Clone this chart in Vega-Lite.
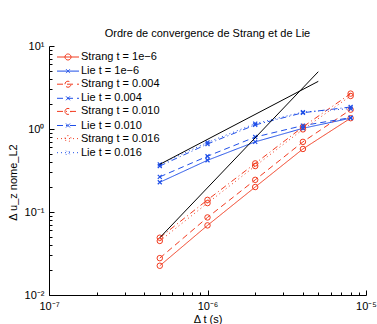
{
  "$schema": "https://vega.github.io/schema/vega-lite/v6.json",
  "width": 317,
  "height": 249,
  "autosize": {"type": "none"},
  "padding": {"left": 49, "top": 46, "right": 11, "bottom": 29},
  "background": "white",
  "title": {"text": "Ordre de convergence de Strang et de Lie", "fontSize": 11, "fontWeight": "normal", "font": "Liberation Sans", "offset": 1, "color": "black", "anchor": "middle"},
  "config": {
    "view": {"stroke": null},
    "axis": {"domainColor": "black", "domainWidth": 1, "tickColor": "black", "tickWidth": 1, "labelColor": "black", "labelFont": "Liberation Sans", "labelFontSize": 11, "titleFont": "Liberation Sans", "titleFontSize": 11, "titleFontWeight": "normal", "titleColor": "black", "grid": false, "labelOverlap": false, "labelFlush": false},
    "legend": {"orient": "none", "legendX": 13, "legendY": 5, "title": null, "symbolSize": 121, "symbolStrokeWidth": 1, "labelFontSize": 11, "labelFont": "Liberation Sans", "labelColor": "black", "labelOffset": 7, "rowPadding": 2.1, "padding": 0, "symbolOpacity": 1}
  },
  "datasets": {
    "err": [
      {"series": "Strang t = 1e−6", "method": "Strang", "dt": 5e-7, "err": 0.0225},
      {"series": "Strang t = 1e−6", "method": "Strang", "dt": 1e-6, "err": 0.069},
      {"series": "Strang t = 1e−6", "method": "Strang", "dt": 2e-6, "err": 0.2},
      {"series": "Strang t = 1e−6", "method": "Strang", "dt": 4e-6, "err": 0.575},
      {"series": "Strang t = 1e−6", "method": "Strang", "dt": 8e-6, "err": 1.35},
      {"series": "Lie t = 1e−6", "method": "Lie", "dt": 5e-7, "err": 0.228},
      {"series": "Lie t = 1e−6", "method": "Lie", "dt": 1e-6, "err": 0.42},
      {"series": "Lie t = 1e−6", "method": "Lie", "dt": 2e-6, "err": 0.7},
      {"series": "Lie t = 1e−6", "method": "Lie", "dt": 4e-6, "err": 1.02},
      {"series": "Lie t = 1e−6", "method": "Lie", "dt": 8e-6, "err": 1.35},
      {"series": "Strang t = 0.004", "method": "Strang", "dt": 5e-7, "err": 0.0278},
      {"series": "Strang t = 0.004", "method": "Strang", "dt": 1e-6, "err": 0.086},
      {"series": "Strang t = 0.004", "method": "Strang", "dt": 2e-6, "err": 0.244},
      {"series": "Strang t = 0.004", "method": "Strang", "dt": 4e-6, "err": 0.7},
      {"series": "Strang t = 0.004", "method": "Strang", "dt": 8e-6, "err": 1.71},
      {"series": "Lie t = 0.004", "method": "Lie", "dt": 5e-7, "err": 0.265},
      {"series": "Lie t = 0.004", "method": "Lie", "dt": 1e-6, "err": 0.47},
      {"series": "Lie t = 0.004", "method": "Lie", "dt": 2e-6, "err": 0.8},
      {"series": "Lie t = 0.004", "method": "Lie", "dt": 4e-6, "err": 1.1},
      {"series": "Lie t = 0.004", "method": "Lie", "dt": 8e-6, "err": 1.37},
      {"series": "Strang t = 0.010", "method": "Strang", "dt": 5e-7, "err": 0.049},
      {"series": "Strang t = 0.010", "method": "Strang", "dt": 1e-6, "err": 0.14},
      {"series": "Strang t = 0.010", "method": "Strang", "dt": 2e-6, "err": 0.385},
      {"series": "Strang t = 0.010", "method": "Strang", "dt": 4e-6, "err": 1.06},
      {"series": "Strang t = 0.010", "method": "Strang", "dt": 8e-6, "err": 2.67},
      {"series": "Lie t = 0.010", "method": "Lie", "dt": 5e-7, "err": 0.358},
      {"series": "Lie t = 0.010", "method": "Lie", "dt": 1e-6, "err": 0.66},
      {"series": "Lie t = 0.010", "method": "Lie", "dt": 2e-6, "err": 1.12},
      {"series": "Lie t = 0.010", "method": "Lie", "dt": 4e-6, "err": 1.57},
      {"series": "Lie t = 0.010", "method": "Lie", "dt": 8e-6, "err": 1.84},
      {"series": "Strang t = 0.016", "method": "Strang", "dt": 5e-7, "err": 0.0448},
      {"series": "Strang t = 0.016", "method": "Strang", "dt": 1e-6, "err": 0.128},
      {"series": "Strang t = 0.016", "method": "Strang", "dt": 2e-6, "err": 0.358},
      {"series": "Strang t = 0.016", "method": "Strang", "dt": 4e-6, "err": 0.99},
      {"series": "Strang t = 0.016", "method": "Strang", "dt": 8e-6, "err": 2.5},
      {"series": "Lie t = 0.016", "method": "Lie", "dt": 5e-7, "err": 0.375},
      {"series": "Lie t = 0.016", "method": "Lie", "dt": 1e-6, "err": 0.69},
      {"series": "Lie t = 0.016", "method": "Lie", "dt": 2e-6, "err": 1.16},
      {"series": "Lie t = 0.016", "method": "Lie", "dt": 4e-6, "err": 1.6},
      {"series": "Lie t = 0.016", "method": "Lie", "dt": 8e-6, "err": 1.76}
    ],
    "ref": [
      {"order": "1", "dt": 5e-7, "err": 0.375},
      {"order": "1", "dt": 5e-6, "err": 3.75},
      {"order": "2", "dt": 5e-7, "err": 0.049},
      {"order": "2", "dt": 5e-6, "err": 4.9}
    ],
    "leg": [
      {"series": "Strang t = 1e−6"},
      {"series": "Lie t = 1e−6"},
      {"series": "Strang t = 0.004"},
      {"series": "Lie t = 0.004"},
      {"series": "Strang t = 0.010"},
      {"series": "Lie t = 0.010"},
      {"series": "Strang t = 0.016"},
      {"series": "Lie t = 0.016"}
    ]
  },
  "encoding": {
    "x": {
      "field": "dt", "type": "quantitative",
      "scale": {"type": "log", "domain": [1e-7, 1e-5], "nice": false},
      "axis": {
        "title": "Δ t (s)",
        "titlePadding": 0,
        "labelPadding": 10,
        "tickSize": {"condition": {"test": "abs(log(datum.value)/LN10 - round(log(datum.value)/LN10)) < 0.001", "value": -5}, "value": -3},
        "labelExpr": "abs(log(datum.value)/LN10 - round(log(datum.value)/LN10)) > 0.001 ? '' : round(log(datum.value)/LN10) == -7 ? '10⁻⁷' : round(log(datum.value)/LN10) == -6 ? '10⁻⁶' : '10⁻⁵'"
      }
    },
    "y": {
      "field": "err", "type": "quantitative",
      "scale": {"type": "log", "domain": [0.01, 10], "nice": false},
      "axis": {
        "title": "Δ u_z nome_L2",
        "titlePadding": 6,
        "titleY": 136,
        "labelPadding": 10,
        "tickSize": {"condition": {"test": "abs(log(datum.value)/LN10 - round(log(datum.value)/LN10)) < 0.001", "value": -5}, "value": -3},
        "labelExpr": "abs(log(datum.value)/LN10 - round(log(datum.value)/LN10)) > 0.001 ? '' : round(log(datum.value)/LN10) == -2 ? '10⁻²' : round(log(datum.value)/LN10) == -1 ? '10⁻¹' : round(log(datum.value)/LN10) == 0 ? '10⁰' : '10¹'"
      }
    }
  },
  "layer": [
    {
      "data": {"name": "err"},
      "mark": {"type": "line", "strokeWidth": 1},
      "encoding": {
        "color": {"field": "series", "type": "nominal", "title": null,
          "scale": {"domain": ["Strang t = 1e−6", "Lie t = 1e−6", "Strang t = 0.004", "Lie t = 0.004", "Strang t = 0.010", "Lie t = 0.010", "Strang t = 0.016", "Lie t = 0.016"],
                    "range": ["#f23a1e", "#1f4fe8", "#f23a1e", "#1f4fe8", "#f23a1e", "#1f4fe8", "#f23a1e", "#1f4fe8"]}},
        "strokeDash": {"field": "series", "type": "nominal", "title": null,
          "scale": {"domain": ["Strang t = 1e−6", "Lie t = 1e−6", "Strang t = 0.004", "Lie t = 0.004", "Strang t = 0.010", "Lie t = 0.010", "Strang t = 0.016", "Lie t = 0.016"],
                    "range": [[1, 0], [1, 0], [6, 4], [6, 4], [6, 3, 1, 3], [6, 3, 1, 3], [1, 3], [1, 3]]}}
      }
    },
    {
      "data": {"name": "err"},
      "transform": [{"filter": "datum.method == 'Strang'"}],
      "mark": {"type": "point", "shape": "circle", "filled": false, "size": 30, "strokeWidth": 1, "opacity": 1},
      "encoding": {
        "color": {"field": "series", "type": "nominal", "title": null}
      }
    },
    {
      "data": {"name": "err"},
      "transform": [{"filter": "datum.method == 'Lie'"}],
      "mark": {"type": "point", "shape": "M-1,-1L1,1M-1,1L1,-1", "filled": false, "size": 16, "strokeWidth": 1.2, "opacity": 1},
      "encoding": {
        "color": {"field": "series", "type": "nominal", "title": null}
      }
    },
    {
      "data": {"name": "ref"},
      "mark": {"type": "line", "color": "black", "strokeWidth": 1},
      "encoding": {"detail": {"field": "order", "type": "nominal"}}
    },
    {
      "data": {"name": "leg"},
      "mark": {"type": "point", "filled": false, "strokeWidth": 1, "opacity": 1},
      "encoding": {
        "color": {"field": "series", "type": "nominal", "title": null},
        "strokeDash": {"field": "series", "type": "nominal", "title": null},
        "shape": {"field": "series", "type": "nominal", "title": null,
          "scale": {"domain": ["Strang t = 1e−6", "Lie t = 1e−6", "Strang t = 0.004", "Lie t = 0.004", "Strang t = 0.010", "Lie t = 0.010", "Strang t = 0.016", "Lie t = 0.016"],
                    "range": ["M-2,0L2,0M-0.55,0A0.55,0.55 0 1,1 0.55,0A0.55,0.55 0 1,1 -0.55,0", "M-2,0L2,0M-0.36,-0.36L0.36,0.36M-0.36,0.36L0.36,-0.36", "M-2,0L2,0M-0.55,0A0.55,0.55 0 1,1 0.55,0A0.55,0.55 0 1,1 -0.55,0", "M-2,0L2,0M-0.36,-0.36L0.36,0.36M-0.36,0.36L0.36,-0.36", "M-2,0L2,0M-0.55,0A0.55,0.55 0 1,1 0.55,0A0.55,0.55 0 1,1 -0.55,0", "M-2,0L2,0M-0.36,-0.36L0.36,0.36M-0.36,0.36L0.36,-0.36", "M-2,0L2,0M-0.55,0A0.55,0.55 0 1,1 0.55,0A0.55,0.55 0 1,1 -0.55,0", "M-2,0L2,0M-0.36,-0.36L0.36,0.36M-0.36,0.36L0.36,-0.36"]}}
      }
    }
  ]
}
